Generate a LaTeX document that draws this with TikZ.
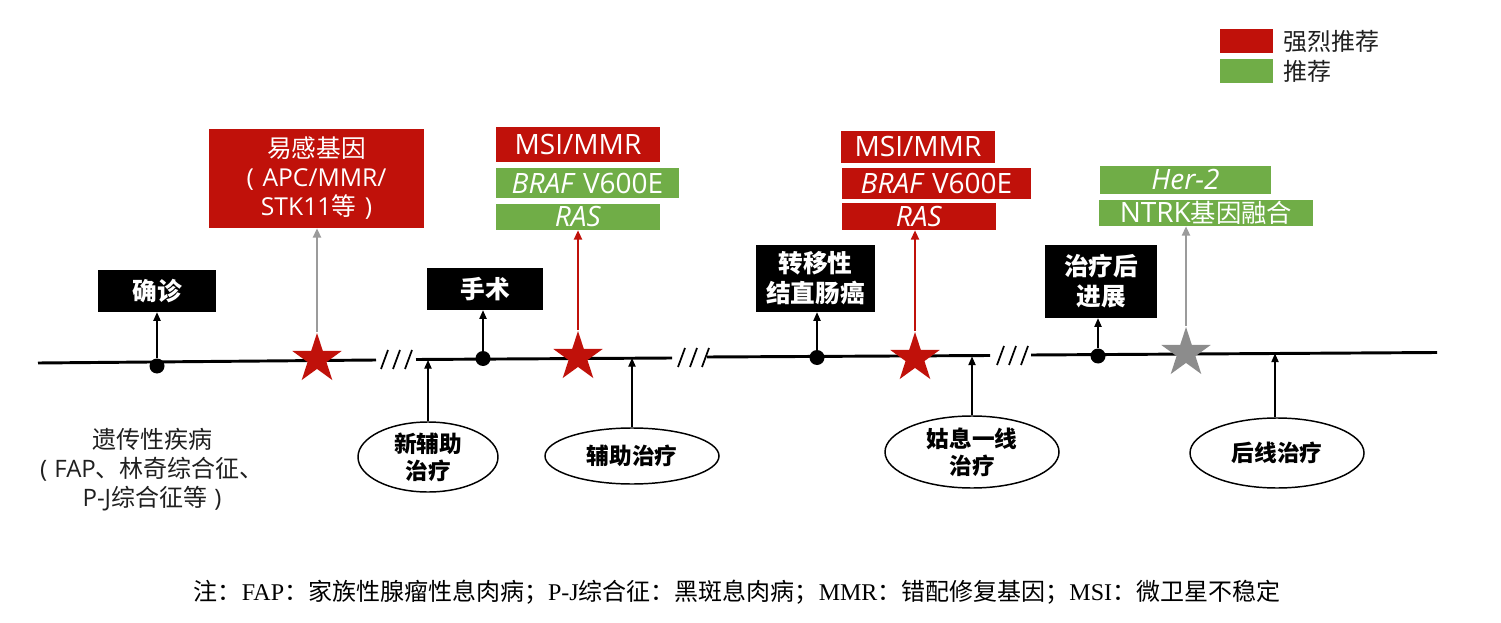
\documentclass[tikz,border=0pt]{standalone}
\usepackage{fontspec}
\setmainfont{Open Sans}
\newfontfamily\cjk{Noto Sans CJK SC}
\newfontfamily\ser{Liberation Serif}
\usetikzlibrary{shapes.geometric,arrows.meta}
\definecolor{rd}{RGB}{192,17,10}
\definecolor{gn}{RGB}{112,173,71}
\definecolor{gy}{RGB}{155,155,155}
\definecolor{gs}{RGB}{140,140,140}
\begin{document}
\begin{tikzpicture}[x=0.75pt,y=-0.75pt,
  sz/.style 2 args={minimum width=#1*0.75pt,minimum height=#2*0.75pt},
  tl/.style={line width=2.2pt},
  sl/.style={line width=1.3pt},
  dot/.style={circle,fill=black,inner sep=0,minimum size=15*0.75pt},
  ba/.style={line width=0.9pt,-{Triangle[length=6.5pt,width=5.5pt]}},
  ra/.style={draw=rd,line width=1.5pt,-{Triangle[length=7pt,width=6pt]}},
  ga/.style={draw=gy,line width=1.5pt,-{Triangle[length=7pt,width=6pt]}},
  blk/.style={fill=black,text=white,inner sep=0,align=center,font=\cjk\bfseries\fontsize{18.5}{22.5}\selectfont},
  tag/.style={inner sep=0,text=white,align=center,font=\fontsize{21}{24}\selectfont},
  star5/.style={star,star points=5,star point ratio=2.618,inner sep=0,minimum size=52*0.75pt},
  ell/.style={ellipse,draw,line width=1.1pt,inner sep=0,align=center,font=\cjk\bfseries\fontsize{17}{20}\selectfont},
  txt/.style={inner sep=0,align=center,text=black!88,font=\fontsize{18}{21.75}\selectfont}
]
\useasboundingbox (0,0) rectangle (1501,623);
% timeline
\coordinate (a0) at (38,363); \coordinate (a1) at (376,360);
\coordinate (b0) at (416,359.5); \coordinate (b1) at (672,358);
\coordinate (c0) at (707,357); \coordinate (c1) at (990,355.5);
\coordinate (d0) at (1031,355); \coordinate (d1) at (1437,352.5);
\draw[tl] (a0)--(a1) (b0)--(b1) (c0)--(c1) (d0)--(d1);
\foreach \x in {381,393,405} \draw[sl] (\x,369) -- ++(7,-19);
\foreach \x in {678,690,702} \draw[sl] (\x,367) -- ++(7,-19);
\foreach \x in {997,1009,1021} \draw[sl] (\x,365) -- ++(7,-19);
% dots
\node[dot] (p1) at (157,366) {};
\node[dot] (p2) at (483,358.5) {};
\node[dot] (p3) at (817,357.5) {};
\node[dot] (p4) at (1098,356) {};
% black boxes
\node[blk,sz={118}{42}] (qz) at (157,291) {确诊};
\node[blk,sz={116}{42}] (ss) at (485,289) {手术};
\node[blk,sz={119}{67}] (zy) at (815.5,278.5) {转移性\\结直肠癌};
\node[blk,sz={112}{73}] (zl) at (1101,281.5) {治疗后\\进展};
\draw[ba] (p1) -- (p1 |- qz.south);
\draw[ba] (p2) -- (p2 |- ss.south);
\draw[ba] (p3) -- (p3 |- zy.south);
\draw[ba] (p4) -- (p4 |- zl.south);
% red gene box
\node[tag,fill=rd,sz={215}{99},font=\fontsize{18.5}{21.75}\selectfont] (yg) at (316.5,178.5)
  {{\cjk 易感基因}\\(\hspace{0.35em}APC/MMR/\\STK11{\cjk 等}\hspace{0.35em})};
% column 2
\node[tag,fill=rd,sz={164}{35}] (m2) at (578,144.5) {MSI/MMR};
\node[tag,fill=gn,sz={183}{30}] (f2) at (587.5,183) {\textit{BRAF} V600E};
\node[tag,fill=gn,sz={164}{26}] (r2) at (578,217) {\textit{RAS}};
% column 3
\node[tag,fill=rd,sz={154}{32}] (m3) at (918,147) {MSI/MMR};
\node[tag,fill=rd,sz={189}{31}] (f3) at (936.5,183.5) {\textit{BRAF} V600E};
\node[tag,fill=rd,sz={154}{27}] (r3) at (919,216.5) {\textit{RAS}};
% column 4
\node[tag,fill=gn,sz={171}{28}] (h4) at (1185.5,180) {\textit{Her-2}};
\node[tag,fill=gn,sz={214}{26}] (n4) at (1206,213) {NTRK{\cjk\fontsize{19}{22}\selectfont 基因融合}};
% stars
\node[star5,fill=rd] (s1) at (317,359) {};
\node[star5,fill=rd] (s2) at (578,357) {};
\node[star5,fill=rd] (s3) at (915,358) {};
\node[star5,fill=gs] (s4) at (1186,353) {};
\draw[ga] (s1.north) -- (s1.north |- yg.south);
\draw[ra] (s2.north) -- (s2.north |- r2.south);
\draw[ra] (s3.north) -- (s3.north |- r3.south);
\draw[ga] (s4.north) -- (s4.north |- n4.south);
% ellipses
\node[ell,sz={140}{70}] (e1) at (428,457) {新辅助\\治疗};
\node[ell,sz={174}{56}] (e2) at (632,456) {辅助治疗};
\node[ell,sz={174}{72}] (e3) at (972,452) {姑息一线\\治疗};
\node[ell,sz={174}{70}] (e4) at (1277,453) {后线治疗};
\coordinate (t1) at (428,360);
\coordinate (t2) at (632,358);
\coordinate (t3) at (972,356.5);
\coordinate (t4) at (1275,353.5);
\draw[ba] (e1.north) -- (t1);
\draw[ba] (e2.north) -- (t2);
\draw[ba] (e3.north) -- (t3);
\draw[ba] (e4.north -| t4) -- (t4);
% left text
\node[txt] (yc) at (152,470) {{\cjk 遗传性疾病}\\(\hspace{0.3em}FAP{\cjk 、林奇综合征、}\\P-J{\cjk 综合征等}\hspace{0.3em})};
% legend
\node[fill=rd,inner sep=0,sz={53}{24}] (lr) at (1246.5,41) {};
\node[fill=gn,inner sep=0,sz={53}{24}] (lg) at (1246.5,71) {};
\node[anchor=west,inner sep=0,text=black!88,font=\cjk\fontsize{18}{20}\selectfont] (lrt) at (1283,41) {强烈推荐};
\node[anchor=west,inner sep=0,text=black!88,font=\cjk\fontsize{18}{20}\selectfont] (lgt) at (1283,71) {推荐};
% footnote
\node[inner sep=0,font=\fontsize{18}{20}\selectfont] (fn) at (737,592)
  {{\cjk 注：}{\ser FAP}{\cjk ：家族性腺瘤性息肉病；}{\ser P-J}{\cjk 综合征：黑斑息肉病；}{\ser MMR}{\cjk ：错配修复基因；}{\ser MSI}{\cjk ：微卫星不稳定}};
\end{tikzpicture}
\end{document}
